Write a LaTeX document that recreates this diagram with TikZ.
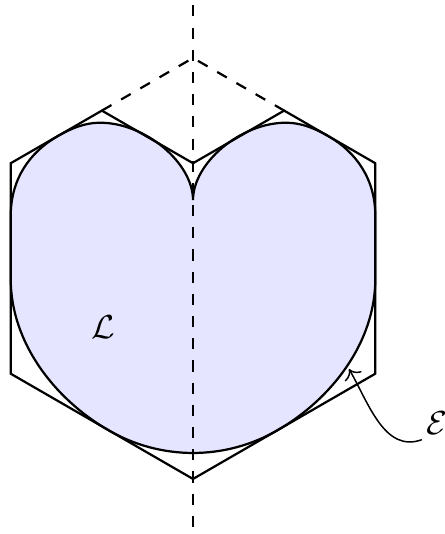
\documentclass[tikz,border=0pt]{standalone}
\usepackage{amsmath,amssymb}
\usepackage{xcolor}
\usepackage{tikz}
\usetikzlibrary{arrows.meta, calc}
\definecolor{lobefill}{RGB}{229,229,255}

\begin{document}
\begin{tikzpicture}[font=\small, semithick]
\useasboundingbox (-1.834,-2.523) rectangle (2.394,2.551);
\def\R{1.732} \def\H{0.866}
% Lobes
\filldraw[fill=lobefill, draw=black] (0,0.65)
  .. controls (0,1.0) and (-0.45,1.385) .. (-0.884,1.385)
  .. controls (-1.03,1.385) and (-1.16,1.33) .. (-1.29,1.255)
  .. controls (-1.55,1.105) and (-\R,0.85) .. (-\R,0.5)
  -- (-\R,-0.1)
  .. controls (-\R,-0.7) and (-1.32,-1.239) .. (-0.8,-1.539)
  .. controls (-0.557,-1.679) and (-0.28,-1.753) .. (0,-1.753)
  .. controls (0.28,-1.753) and (0.557,-1.679) .. (0.8,-1.539)
  .. controls (1.32,-1.239) and (\R,-0.7) .. (\R,-0.1)
  -- (\R,0.5)
  .. controls (\R,0.85) and (1.55,1.105) .. (1.29,1.255)
  .. controls (1.16,1.33) and (1.03,1.385) .. (0.884,1.385)
  .. controls (0.45,1.385) and (0,1.0) .. (0,0.65) -- cycle;
% Hexagon with notch
\draw (0,1) -- (-\H,1.5) -- (-\R,1) -- (-\R,-1) -- (0,-2)
  -- (\R,-1) -- (\R,1) -- (\H,1.5) -- cycle;
\draw[dashed] (-\H,1.5) -- (0,2) -- (\H,1.5);
% Axis
\draw[dashed] (0,2.5) -- (0,-2.5);
% Labels
\node (L) at (-0.855,-0.556) {$\mathcal{L}$};
\node[inner sep=1pt] (E) at (2.32,-1.473) {$\mathcal{E}$};
\coordinate (tip) at (1.482,-0.955);
\draw[thin, ->] (E.south west) to[out=200,in=-60] (tip);
\end{tikzpicture}
\end{document}
